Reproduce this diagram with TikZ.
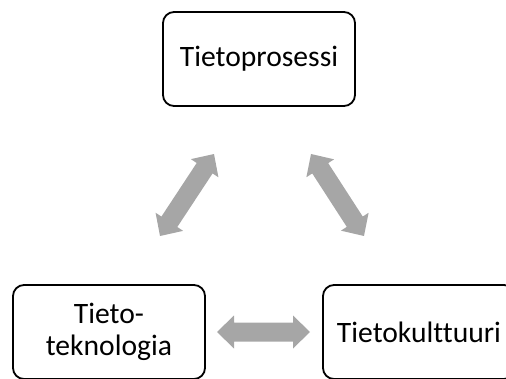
\documentclass[tikz,border=0pt]{standalone}
\usepackage{fontspec}
\setmainfont[Ligatures=NoCommon]{Carlito}
\usetikzlibrary{calc}
\definecolor{arrowgray}{HTML}{A6A6A6}
\tikzset{
  x=1pt, y=1pt,
  stage/.style={draw=black, line width=1.8pt, rounded corners=11pt, fill=white,
    minimum width=192pt, minimum height=94pt, inner sep=0pt, align=center,
    font=\fontsize{29.6}{32}\selectfont},
  blockarrow/.style={fill=arrowgray, draw=none}
}
% double-headed block arrow between two coordinates
\newcommand\dblarrow[2]{%
  \path[blockarrow] let \p1=($(#2)-(#1)$), \n1={veclen(\x1,\y1)}, \n2={atan2(\y1,\x1)} in
    [shift={(#1)}, rotate=\n2]
    (0,0) -- (17,16.5) -- (17,9.5) -- (\n1-17,9.5) -- (\n1-17,16.5) -- (\n1,0)
    -- (\n1-17,-16.5) -- (\n1-17,-9.5) -- (17,-9.5) -- (17,-16.5) -- cycle;}
\begin{document}
\begin{tikzpicture}
  \useasboundingbox (0,0) rectangle (506,378);
  \clip (0,0) rectangle (506,378);

  \node[stage] (proc) at (259,319) {Tietoprosessi};
  \node[stage] (tek)  at (109,46)  {Tieto-\\teknologia};
  \node[stage] (kult) at (419,46)  {Tietokulttuuri};

  \coordinate (l1) at (160,142);
  \coordinate (l2) at (214,224);
  \coordinate (r1) at (311,224);
  \coordinate (r2) at (364,142);
  \coordinate (b1) at (217,46);
  \coordinate (b2) at (310,46);

  \dblarrow{l1}{l2}
  \dblarrow{r1}{r2}
  \dblarrow{b1}{b2}
\end{tikzpicture}
\end{document}
